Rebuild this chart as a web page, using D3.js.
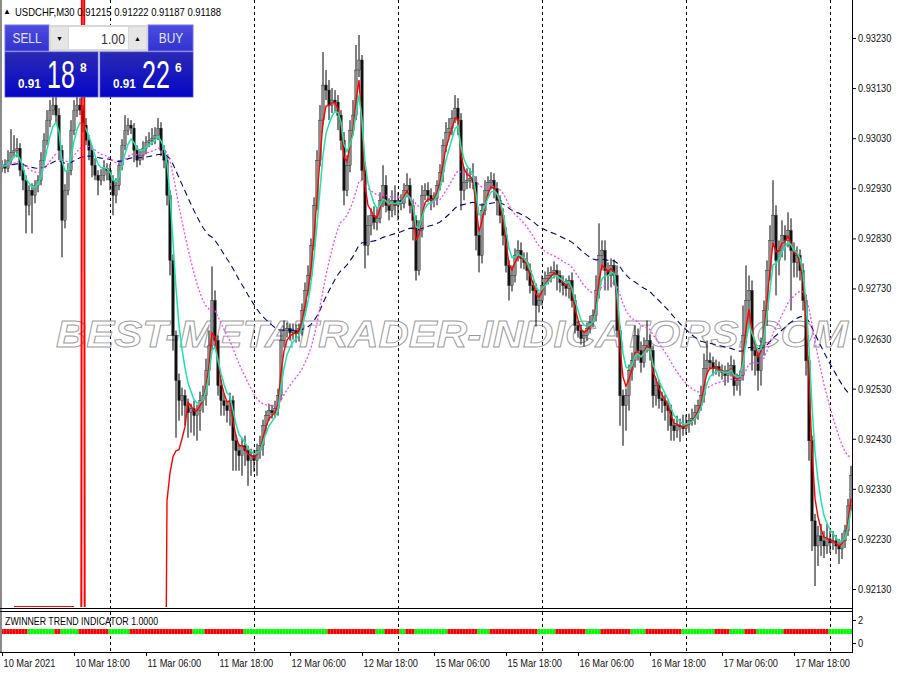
<!DOCTYPE html>
<html><head><meta charset="utf-8">
<script src="https://cdn.jsdelivr.net/npm/d3@7"></script>
<style>
body{margin:0;background:#fff}
svg{display:block}
text{font-family:"Liberation Sans",Arial,sans-serif}
</style>
</head><body>
<svg id="c" width="900" height="675"></svg>
<script>
// ---------------- DATA ----------------
const symbol = "USDCHF,M30";
const headerQuote = ["0.91215", "0.91222", "0.91187", "0.91188"];
const BASE = 0.92;               // closes/wicks are in points (0.00001) above 0.92000
const firstOpenPts = 970;
const closesPts = [
976,970,986,1002,1006,1010,966,946,896,926,
916,936,946,986,1026,1066,1086,1096,1076,1006,
866,926,966,1046,1086,1096,1086,1056,1026,1006,
976,956,946,956,970,966,946,916,936,976,
1016,1046,1056,1050,1006,986,996,1010,1022,1026,
1030,1036,1050,1006,986,916,786,636,546,506,
516,496,482,490,476,486,506,516,566,616,
706,626,536,506,496,486,506,426,406,396,
416,406,386,396,386,406,416,456,476,486,
482,490,516,626,646,650,642,646,640,650,
686,726,756,816,896,986,1066,1136,1126,1096,
1106,1102,1076,1026,926,976,1046,1076,1166,1186,
966,816,856,876,862,870,906,936,896,886,
906,896,906,900,926,936,896,866,766,846,
916,926,916,906,910,936,962,1016,1042,1050,
1070,1090,1066,926,942,946,950,942,836,796,
886,926,942,946,930,906,876,836,776,736,
756,796,806,790,782,766,736,726,696,706,
736,750,756,762,766,756,742,736,730,746,
706,656,646,630,636,650,662,676,726,796,
806,766,756,776,756,646,516,496,516,566,
586,636,606,582,616,626,606,516,536,510,
506,496,486,456,446,456,454,450,458,466,
470,482,496,516,570,586,582,570,574,566,
562,556,566,576,536,546,556,636,706,726,
606,596,566,616,686,766,826,876,786,806,
836,826,846,806,782,796,766,706,586,426,
266,216,236,226,216,230,222,226,216,210,
226,246,296,356];
const wickUpPts = [
10,12,20,46,30,20,10,14,10,10,
14,10,10,16,14,20,20,24,20,14,
10,12,14,20,20,20,14,10,14,10,
10,14,10,12,16,10,12,10,14,10,
12,30,14,10,10,10,12,14,12,16,
20,16,20,12,10,10,10,12,10,14,
16,12,14,10,16,12,18,20,24,30,
68,20,10,12,14,10,16,10,12,14,
16,20,10,14,12,14,20,12,10,14,
12,16,14,20,20,12,10,14,12,10,
14,16,20,14,16,20,30,66,30,20,
24,20,14,10,16,20,20,30,50,50,
10,16,20,14,18,20,16,40,20,14,
20,30,16,12,14,24,14,10,10,20,
20,14,16,14,12,10,16,12,20,20,
16,26,20,14,30,24,20,30,12,10,
14,20,12,16,14,12,10,14,16,10,
20,14,20,16,12,20,14,10,14,16,
20,14,16,12,18,12,10,14,14,10,
16,12,10,12,10,12,14,12,30,64,
20,20,16,14,12,20,10,12,14,12,
16,20,14,18,16,40,12,10,14,12,
14,12,10,12,14,20,14,24,20,14,
20,16,12,20,30,40,16,12,14,10,
12,14,16,20,12,14,10,60,70,30,
20,16,12,16,20,20,30,70,20,20,
30,20,36,24,16,18,12,14,12,10,
10,14,20,24,20,30,16,20,12,14,
16,12,14,20];
const wickDownPts = [
8,10,8,10,10,14,12,20,56,20,
76,16,14,10,10,10,14,10,14,20,
74,16,10,10,10,14,10,14,10,20,
24,10,30,10,12,20,20,40,16,10,
10,10,10,12,24,14,10,10,12,10,
10,12,10,12,16,20,30,30,114,40,
30,40,50,40,40,50,40,24,20,30,
10,14,20,30,20,24,30,60,40,30,
40,30,50,30,22,30,16,20,16,10,
12,10,14,10,14,14,16,14,18,16,
14,10,10,10,10,10,12,10,20,30,
16,20,30,20,30,12,14,10,10,14,
20,46,20,20,14,16,10,14,14,20,
14,20,30,14,10,14,16,40,20,10,
14,10,14,20,14,14,10,20,14,10,
14,10,30,40,20,14,16,14,30,34,
16,10,14,14,20,30,16,20,14,30,
12,14,12,20,14,20,16,30,42,14,
10,20,12,14,12,30,20,20,16,20,
14,16,14,12,16,10,10,10,12,16,
30,40,30,24,20,14,60,80,50,30,
20,14,20,20,10,14,20,24,20,20,
24,30,40,30,20,14,30,14,12,16,
10,12,14,10,14,12,14,14,12,12,
14,20,14,12,20,10,30,10,14,50,
40,40,40,30,20,30,20,12,70,30,
14,40,14,120,30,30,20,20,30,40,
60,80,40,30,24,16,20,14,16,30,
20,14,10,10];
// red indicator line: start-up values (bars 54..61) and the early artifacts
const redWarmStart = 54;
const redWarmPts = [-600, 306, 362, 394, 406, 408, 430, 454];
const redFlatBars = [4, 24];      const redFlatPts = 94;
const redSpikeBars = [26, 27, 28]; const redSpikePts = [-3000, 4000, -3000];
// moving-average periods (exponential)
const fastPeriod = 5, redPeriod = 3, midPeriod = 25, slowPeriod = 65;
// axis data
const priceTicks = [0.92130,0.92230,0.92330,0.92430,0.92530,0.92630,0.92730,0.92830,0.92930,0.93030,0.93130,0.93230];
const timeLabelBars = [0,24,48,72,96,120,144,168,192,216,240,264];
const timeLabels = ["10 Mar 2021","10 Mar 18:00","11 Mar 06:00","11 Mar 18:00","12 Mar 06:00","12 Mar 18:00","15 Mar 06:00","15 Mar 18:00","16 Mar 06:00","16 Mar 18:00","17 Mar 06:00","17 Mar 18:00"];
const daySeparatorBars = [36,84,132,180,228,276];
// ZWinner trend: runs of [direction, number of bars]
const trendRuns = [[-1,9],[1,9],[-1,2],[1,6],[-1,10],[1,7],[-1,21],[1,4],[-1,13],[1,28],[-1,16],[1,3],[-1,5],[1,2],[-1,3],[1,11],[-1,10],[1,4],[-1,16],[1,6],[-1,10],[1,5],[-1,10],[1,5],[-1,12],[1,11],[-1,5],[1,5],[-1,4],[1,9],[-1,15],[1,8]];
const indTicks = [0, 2];
const indicatorTitle = "ZWINNER TREND INDICATOR 1.0000";
const watermark = "BEST-METATRADER-INDICATORS.COM";
const lot = "1.00";
const sellQuote = ["0.91", "18", "8"];
const buyQuote = ["0.91", "22", "6"];

// ---------------- DERIVED ----------------
const toP = v => BASE + v / 100000;
const N = closesPts.length;
const closes = closesPts.map(toP);
const opens = closes.map((c, i) => i ? closes[i - 1] : toP(firstOpenPts));
const highs = closes.map((c, i) => Math.max(c, opens[i]) + wickUpPts[i] / 1e5);
const lows = closes.map((c, i) => Math.min(c, opens[i]) - wickDownPts[i] / 1e5);
const ema = (a, n) => { const k = 2 / (n + 1); let p; return a.map((v, i) => p = i ? p + k * (v - p) : v); };
const fastMA = ema(closes, fastPeriod);
const midMA = ema(closes, midPeriod);
const slowMA = ema(closes, slowPeriod);
const redFast = ema(closes, redPeriod);
const redLine = closes.map((c, i) => {
  if (i < redWarmStart) return null;
  const k = i - redWarmStart;
  return k < redWarmPts.length ? toP(redWarmPts[k]) : redFast[i];
});
const trend = [];
trendRuns.forEach(([d, n]) => { for (let j = 0; j < n; j++) trend.push(d); });

// ---------------- SCALES ----------------
const svg = d3.select("#c");
const x = d3.scaleLinear().domain([0, N - 1]).range([2, 851]);
const y = d3.scaleLinear().domain([0.92130, 0.93230]).range([589, 38]);
const yInd = d3.scaleLinear().domain([0, 2]).range([643, 620]);
const plotL = 2, plotR = 852, plotT = 0, plotB = 608, indT = 611, indB = 652;
const squeeze = (sel, k) => sel.each(function () {
  const L = this.getComputedTextLength();
  d3.select(this).attr("textLength", L * k).attr("lengthAdjust", "spacingAndGlyphs");
});

svg.append("rect").attr("width", 900).attr("height", 675).attr("fill", "#fff");
const defs = svg.append("defs");
defs.append("clipPath").attr("id", "clipMain").append("rect")
  .attr("x", plotL).attr("y", plotT).attr("width", plotR - plotL).attr("height", plotB - plotT - 1);
const g1 = defs.append("linearGradient").attr("id", "gBox").attr("x1", 0).attr("x2", 0).attr("y1", 0).attr("y2", 1);
g1.append("stop").attr("offset", 0).attr("stop-color", "#2a2ab4");
g1.append("stop").attr("offset", 1).attr("stop-color", "#0606c8");
const g2 = defs.append("linearGradient").attr("id", "gBtn").attr("x1", 0).attr("x2", 0).attr("y1", 0).attr("y2", 1);
g2.append("stop").attr("offset", 0).attr("stop-color", "#4c4ce2");
g2.append("stop").attr("offset", 1).attr("stop-color", "#3232ce");

// day separators
svg.append("g").selectAll("line").data(daySeparatorBars).join("line")
  .attr("x1", d => Math.round(x(d)) + 0.5).attr("x2", d => Math.round(x(d)) + 0.5)
  .attr("y1", plotT).attr("y2", indB)
  .attr("stroke", "#000").attr("stroke-width", 1).attr("stroke-dasharray", "3,3");

const main = svg.append("g").attr("clip-path", "url(#clipMain)");

// watermark
main.append("text").text(watermark)
  .attr("x", 56).attr("y", 347)
  .attr("textLength", 792).attr("lengthAdjust", "spacingAndGlyphs")
  .style("font-style", "italic").style("font-weight", "bold").style("font-size", "37px")
  .attr("fill", "none").attr("stroke", "#9a9a9a").attr("stroke-width", 0.9);

// candles
const idx = d3.range(N);
const bw = 2.4;
main.append("g").selectAll("line").data(idx).join("line")
  .attr("x1", i => x(i)).attr("x2", i => x(i))
  .attr("y1", i => y(highs[i])).attr("y2", i => y(lows[i]))
  .attr("stroke", "#000").attr("stroke-width", 1);
main.append("g").selectAll("rect").data(idx).join("rect")
  .attr("x", i => x(i) - bw / 2).attr("width", bw)
  .attr("y", i => y(Math.max(opens[i], closes[i])))
  .attr("height", i => Math.max(1, Math.abs(y(opens[i]) - y(closes[i]))))
  .attr("fill", i => closes[i] >= opens[i] ? "#8a8a8a" : "#111")
  .attr("stroke", "#222").attr("stroke-width", 0.4);

const lineGen = d3.line().defined(d => d != null).x((d, i) => x(i)).y(d => y(d));
main.append("path").datum(slowMA).attr("d", lineGen)
  .attr("fill", "none").attr("stroke", "#00007f").attr("stroke-width", 1.1).attr("stroke-dasharray", "6,4");
main.append("path").datum(midMA).attr("d", lineGen)
  .attr("fill", "none").attr("stroke", "#ff40ff").attr("stroke-width", 1.3).attr("stroke-dasharray", "2,2");
main.append("path").datum(redLine).attr("d", lineGen)
  .attr("fill", "none").attr("stroke", "#ff0000").attr("stroke-width", 1.4);
main.append("path").datum(fastMA).attr("d", lineGen)
  .attr("fill", "none").attr("stroke", "#19e6aa").attr("stroke-width", 1.5);
// red artifacts on the left
const lp = d3.line().x(d => x(d[0])).y(d => y(d[1]));
main.append("path").datum(redFlatBars.map(b => [b, toP(redFlatPts)])).attr("d", lp)
  .attr("fill", "none").attr("stroke", "#ff0000").attr("stroke-width", 2);
main.append("path").datum(redSpikeBars.map((b, k) => [b, toP(redSpikePts[k])])).attr("d", lp)
  .attr("fill", "none").attr("stroke", "#ff0000").attr("stroke-width", 2);

// header text
svg.append("text").text("▲").attr("x", 3).attr("y", 14).style("font-size", "8px").attr("fill", "#000");
svg.append("text").text(symbol + " " + headerQuote.join(" ")).attr("x", 15).attr("y", 16)
  .style("font-size", "11px").attr("fill", "#000")
  .attr("textLength", 206).attr("lengthAdjust", "spacingAndGlyphs");

// trading panel
const pnl = svg.append("g");
pnl.append("rect").attr("x", 5).attr("y", 25).attr("width", 44).attr("height", 26).attr("fill", "url(#gBtn)").attr("stroke", "#7070f2");
pnl.append("rect").attr("x", 148).attr("y", 25).attr("width", 45).attr("height", 26).attr("fill", "url(#gBtn)").attr("stroke", "#7070f2");
pnl.append("text").text("SELL").attr("x", 27).attr("y", 43).attr("text-anchor", "middle").attr("fill", "#e4e4ff").style("font-size", "14px").call(squeeze, 0.85);
pnl.append("text").text("BUY").attr("x", 171).attr("y", 43).attr("text-anchor", "middle").attr("fill", "#e4e4ff").style("font-size", "14px").call(squeeze, 0.85);
pnl.append("rect").attr("x", 49).attr("y", 25).attr("width", 99).attr("height", 27).attr("fill", "#d8d8d8");
pnl.append("rect").attr("x", 51).attr("y", 27).attr("width", 17).attr("height", 22).attr("fill", "#e6e6e6");
pnl.append("rect").attr("x", 69).attr("y", 27).attr("width", 59).attr("height", 22).attr("fill", "#fff");
pnl.append("rect").attr("x", 129).attr("y", 27).attr("width", 17).attr("height", 22).attr("fill", "#e6e6e6");
pnl.append("text").text("▼").attr("x", 59.5).attr("y", 41).attr("text-anchor", "middle").style("font-size", "7px");
pnl.append("text").text("▲").attr("x", 137.5).attr("y", 41).attr("text-anchor", "middle").style("font-size", "7px");
pnl.append("text").text(lot).attr("x", 125).attr("y", 44).attr("text-anchor", "end").attr("fill", "#333").style("font-size", "15px").call(squeeze, 0.82);
[[5, sellQuote], [100, buyQuote]].forEach(([bx, q]) => {
  pnl.append("rect").attr("x", bx).attr("y", 52).attr("width", 93).attr("height", 45).attr("fill", "url(#gBox)").attr("stroke", "#4a4ad8").attr("stroke-width", 0.8);
  pnl.append("text").text(q[0]).attr("x", bx + 13).attr("y", 88).attr("fill", "#fff").style("font-size", "13px").style("font-weight", "bold").call(squeeze, 0.9);
  pnl.append("g").attr("transform", `translate(${bx + 42},88) scale(0.66,1)`)
    .append("text").text(q[1]).attr("x", 0).attr("y", 0).attr("fill", "#fff").style("font-size", "38px");
  pnl.append("text").text(q[2]).attr("x", bx + 75).attr("y", 72).attr("fill", "#fff").style("font-size", "12px").style("font-weight", "bold");
});

// indicator band
const band = svg.append("g");
band.selectAll("rect").data(idx).join("rect")
  .attr("x", i => x(i) - 1.5).attr("width", 3.05)
  .attr("y", yInd(1) - 2.5).attr("height", 5)
  .attr("fill", i => trend[i] > 0 ? "#00ff00" : "#ff0000");
svg.append("text").text(indicatorTitle).attr("x", 5).attr("y", 625).style("font-size", "11px").attr("fill", "#000").call(squeeze, 0.8);

// borders
svg.append("rect").attr("x", 0).attr("y", 0).attr("width", 2).attr("height", indB + 1).attr("fill", "#8a8a8a");
svg.append("line").attr("x1", plotR + 0.5).attr("x2", plotR + 0.5).attr("y1", 0).attr("y2", indB + 1).attr("stroke", "#000");
[plotB + 0.5, indT + 0.5, indB + 0.5].forEach(yy =>
  svg.append("line").attr("x1", 0).attr("x2", plotR + 1).attr("y1", yy).attr("y2", yy).attr("stroke", "#000"));

// axes
const styleAxis = g => {
  g.select(".domain").remove();
  g.selectAll("text").attr("fill", "#111").style("font-size", "11px")
    .style("font-family", "'Liberation Sans',Arial,sans-serif").call(squeeze, 0.84);
  g.selectAll("line").attr("stroke", "#000");
};
svg.append("g").attr("transform", `translate(${plotR},0)`)
  .call(d3.axisRight(y).tickValues(priceTicks).tickFormat(d3.format(".5f")).tickSize(4).tickPadding(2))
  .call(styleAxis);
svg.append("g").attr("transform", `translate(${plotR},0)`)
  .call(d3.axisRight(yInd).tickValues(indTicks).tickFormat(d3.format("d")).tickSize(4).tickPadding(2))
  .call(styleAxis);
svg.append("g").attr("transform", `translate(0,${indB})`)
  .call(d3.axisBottom(x).tickValues(timeLabelBars).tickFormat((d, i) => timeLabels[i]).tickSize(4).tickPadding(3))
  .call(g => g.selectAll("text").attr("text-anchor", "start").attr("dx", 1))
  .call(styleAxis);
</script>
</body></html>
